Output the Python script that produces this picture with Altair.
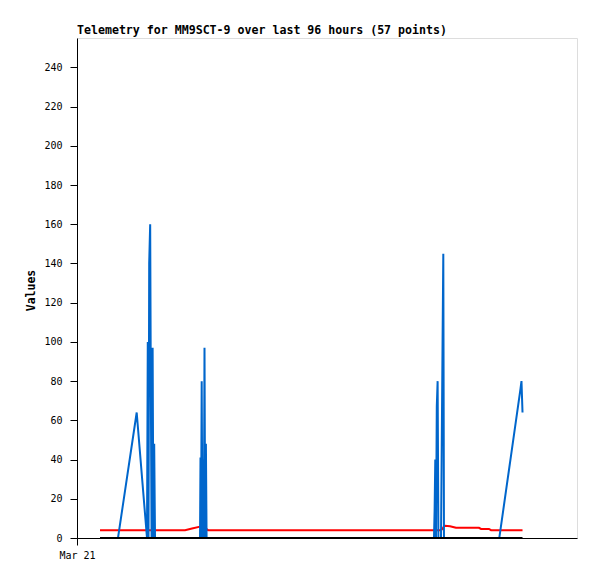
import altair as alt
import pandas as pd

TITLE = "Telemetry for MM9SCT-9 over last 96 hours (57 points)"

# hours since Mar 21 00:00
hours = [4.42, 7.87, 11.46, 13.44, 13.59, 13.73, 13.86, 14.05, 14.17, 14.32,
         14.52, 14.67, 14.82, 14.98, 17.86, 20.74, 22.08, 23.62, 23.71, 23.81,
         23.94, 24.08, 24.21, 24.35, 24.48, 24.61, 24.75, 24.88, 25.15, 28.42,
         33.22, 42.82, 52.42, 62.02, 68.54, 68.66, 68.79, 68.93, 69.08, 69.24,
         69.39, 69.89, 70.20, 70.33, 70.46, 70.66, 71.62, 72.38, 72.77, 77.18,
         77.57, 79.10, 79.49, 81.08, 85.15, 85.34, 85.54]

blue = [0, 0, 64, 0, 100, 0, 140, 160, 80, 0,
        97, 0, 48, 0, 0, 0, 0, 0, 41, 0,
        80, 0, 40, 0, 97, 0, 48, 0, 0, 0,
        0, 0, 0, 0, 0, 14, 40, 0, 67, 80,
        0, 0, 104, 145, 0, 0, 0, 0, 0, 0,
        0, 0, 0, 0, 76, 80, 64]

red = [4, 4, 4, 4, 4, 4, 4, 4, 4, 4,
       4, 4, 4, 4, 4, 4, 4.8, 5.8, 5.9, 6.0,
       6.1, 6.2, 6.1, 6.0, 5.8, 5.5, 5.0, 4.5, 4, 4,
       4, 4, 4, 4, 4, 4, 4, 4, 4, 4,
       4, 4, 4.8, 5.4, 6.0, 6.2, 6.0, 5.5, 5.2, 5.2,
       4.6, 4.6, 4.0, 4, 4, 4, 4]

black = [0] * len(hours)

y_ticks = list(range(0, 241, 20))
x_tick_values = [0]
x_tick_text = "Mar 21"

df = pd.DataFrame({"h": hours, "blue": blue, "red": red, "black": black})

MONO = "DejaVu Sans Mono"

x_enc = alt.X("h:Q", scale=alt.Scale(domain=[0, 96], nice=False, zero=False),
              axis=alt.Axis(values=x_tick_values,
                            labelExpr=f"'{x_tick_text}'", title=None, grid=False,
                            labelFlush=False,
                            tickSize=7, labelPadding=5, labelFont=MONO,
                            labelFontSize=10, labelColor="black",
                            domainColor="black", tickColor="black"))

def y_enc(field):
    return alt.Y(f"{field}:Q", scale=alt.Scale(domain=[0, 255], nice=False),
                 axis=alt.Axis(values=y_ticks, title="Values", grid=False,
                               tickSize=7, labelPadding=8, labelFont=MONO,
                               labelFontSize=10, labelColor="black",
                               labelFlush=False,
                               titleFont=MONO, titleFontSize=11.5,
                               titleFontWeight="bold", titleColor="black",
                               titleX=-41, titleY=252,
                               domainColor="black", tickColor="black"))

base = alt.Chart(df)
red_line = base.mark_line(color="#ff0000", strokeWidth=2).encode(x=x_enc, y=y_enc("red"))
blue_line = base.mark_line(color="#0066cc", strokeWidth=2).encode(x=x_enc, y=y_enc("blue"))
black_line = base.mark_line(color="#000000", strokeWidth=2).encode(x=x_enc, y=y_enc("black"))

chart = alt.layer(red_line, blue_line, black_line).properties(
    width=500, height=500,
    title=alt.TitleParams(TITLE, anchor="start", frame="group", font=MONO,
                          fontSize=11.6, fontWeight="bold", color="black",
                          offset=1),
    autosize=alt.AutoSizeParams(type="none"),
    padding={"left": 69, "top": 30, "right": 12, "bottom": 33},
).configure_view(stroke="#333333", strokeWidth=1).configure(background="white")

chart.save("out.html", embed_options={"renderer": "svg", "actions": False})
